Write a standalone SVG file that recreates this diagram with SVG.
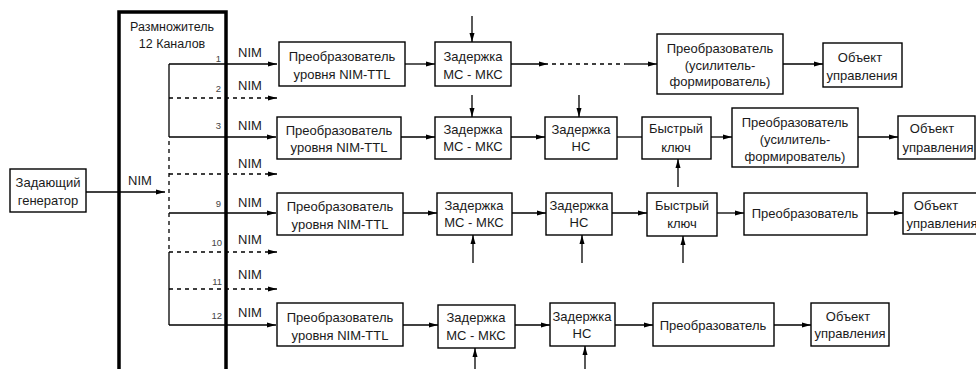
<svg xmlns="http://www.w3.org/2000/svg" width="976" height="369" viewBox="0 0 976 369">
<style>
text{font-family:"Liberation Sans",Arial,sans-serif;font-size:13px;fill:#1a1a1a;text-anchor:middle}
.ttl{font-size:12.5px}
.num{font-size:9.5px;fill:#444;text-anchor:end}
.box{fill:#fff;stroke:#000;stroke-width:1.4}
.ln{fill:none;stroke:#000;stroke-width:1.3}
.dash{fill:none;stroke:#000;stroke-width:1.3;stroke-dasharray:4 4}
.thick{fill:none;stroke:#000;stroke-width:3.5}
</style>
<defs>
<marker id="ah" markerWidth="9" markerHeight="6" refX="9" refY="3" orient="auto" markerUnits="userSpaceOnUse">
<path d="M0,0.5 L9,3 L0,5.5 Z" fill="#000"/>
</marker>
</defs>

<g id="generator">
<rect class="box" x="10" y="169" width="76" height="43"/>
<text x="48" y="187">Задающий</text>
<text x="48" y="205">генератор</text>
</g>

<g id="multiplier">
<rect class="thick" x="119" y="12" width="107" height="370"/>
<text class="ttl" x="172" y="31">Размножитель</text>
<text class="ttl" x="172" y="48">12 Каналов</text>
<text class="num" x="221" y="62">1</text>
<text class="num" x="221" y="92">2</text>
<text class="num" x="221" y="129">3</text>
<text class="num" x="221" y="207">9</text>
<text class="num" x="222" y="246">10</text>
<text class="num" x="222" y="285">11</text>
<text class="num" x="222" y="319">12</text>
</g>

<g id="nim-labels">
<text x="140" y="185">NIM</text>
<text x="250" y="57">NIM</text>
<text x="250" y="90">NIM</text>
<text x="250" y="130">NIM</text>
<text x="250" y="168">NIM</text>
<text x="250" y="207">NIM</text>
<text x="250" y="244">NIM</text>
<text x="250" y="279">NIM</text>
<text x="250" y="317">NIM</text>
</g>

<!-- Row 1 -->
<g id="r1-conv">
<rect class="box" x="279" y="42" width="126" height="44"/>
<text x="342" y="61">Преобразователь</text>
<text x="342" y="79">уровня NIM-TTL</text>
</g>
<g id="r1-delay">
<rect class="box" x="435" y="42" width="76" height="44"/>
<text x="473" y="61">Задержка</text>
<text x="473" y="79">МС - МКС</text>
</g>
<g id="r1-amp">
<rect class="box" x="657" y="34" width="126" height="60"/>
<text x="720" y="53">Преобразователь</text>
<text x="720" y="70">(усилитель-</text>
<text x="720" y="86">формирователь)</text>
</g>
<g id="r1-obj">
<rect class="box" x="823" y="43" width="79" height="44"/>
<text x="860" y="62">Объект</text>
<text x="862" y="80">управления</text>
</g>

<!-- Row 3 -->
<g id="r3-conv">
<rect class="box" x="277" y="117" width="124" height="42"/>
<text x="339" y="135">Преобразователь</text>
<text x="339" y="152">уровня NIM-TTL</text>
</g>
<g id="r3-delay">
<rect class="box" x="435" y="117" width="76" height="42"/>
<text x="473" y="134">Задержка</text>
<text x="473" y="151">МС - МКС</text>
</g>
<g id="r3-ns">
<rect class="box" x="545" y="117" width="72" height="42"/>
<text x="581" y="134">Задержка</text>
<text x="581" y="151">НС</text>
</g>
<g id="r3-key">
<rect class="box" x="642" y="117" width="69" height="42"/>
<text x="676" y="133">Быстрый</text>
<text x="676" y="152">ключ</text>
</g>
<g id="r3-amp">
<rect class="box" x="732" y="108" width="126" height="59"/>
<text x="795" y="127">Преобразователь</text>
<text x="795" y="144">(усилитель-</text>
<text x="795" y="161">формирователь)</text>
</g>
<g id="r3-obj">
<rect class="box" x="898" y="116" width="77" height="43"/>
<text x="932" y="133">Объект</text>
<text x="938" y="152">управления</text>
</g>

<!-- Row 9 -->
<g id="r9-conv">
<rect class="box" x="277" y="193" width="126" height="42"/>
<text x="340" y="211">Преобразователь</text>
<text x="340" y="229">уровня NIM-TTL</text>
</g>
<g id="r9-delay">
<rect class="box" x="437" y="193" width="75" height="42"/>
<text x="474" y="210">Задержка</text>
<text x="474" y="227">МС - МКС</text>
</g>
<g id="r9-ns">
<rect class="box" x="546" y="193" width="66" height="42"/>
<text x="579" y="210">Задержка</text>
<text x="579" y="227">НС</text>
</g>
<g id="r9-key">
<rect class="box" x="647" y="193" width="70" height="43"/>
<text x="682" y="210">Быстрый</text>
<text x="682" y="228">ключ</text>
</g>
<g id="r9-conv2">
<rect class="box" x="744" y="193" width="123" height="42"/>
<text x="805" y="218">Преобразователь</text>
</g>
<g id="r9-obj">
<rect class="box" x="903" y="193" width="80" height="41"/>
<text x="936" y="210">Объект</text>
<text x="942" y="228">управления</text>
</g>

<!-- Row 12 -->
<g id="r12-conv">
<rect class="box" x="277" y="303" width="126" height="43"/>
<text x="340" y="322">Преобразователь</text>
<text x="340" y="340">уровня NIM-TTL</text>
</g>
<g id="r12-delay">
<rect class="box" x="438" y="305" width="77" height="43"/>
<text x="476" y="322">Задержка</text>
<text x="476" y="340">МС - МКС</text>
</g>
<g id="r12-ns">
<rect class="box" x="550" y="303" width="65" height="43"/>
<text x="582" y="321">Задержка</text>
<text x="582" y="338">НС</text>
</g>
<g id="r12-conv2">
<rect class="box" x="653" y="303" width="121" height="43"/>
<text x="713" y="330">Преобразователь</text>
</g>
<g id="r12-obj">
<rect class="box" x="811" y="303" width="78" height="43"/>
<text x="848" y="321">Объект</text>
<text x="850" y="338">управления</text>
</g>

<g id="connectors">
<line class="ln" x1="86" y1="192" x2="165" y2="192" marker-end="url(#ah)"/>
<line class="ln" x1="169" y1="64" x2="169" y2="137"/>
<line class="dash" x1="169" y1="141" x2="169" y2="252"/>
<line class="ln" x1="169" y1="252" x2="169" y2="325"/>
<line class="ln" x1="169" y1="64" x2="277" y2="64" marker-end="url(#ah)"/>
<line class="dash" x1="169" y1="98" x2="277" y2="98" marker-end="url(#ah)"/>
<line class="ln" x1="169" y1="137" x2="276" y2="137" marker-end="url(#ah)"/>
<line class="dash" x1="169" y1="174" x2="277" y2="174" marker-end="url(#ah)"/>
<line class="ln" x1="169" y1="213" x2="276" y2="213" marker-end="url(#ah)"/>
<line class="dash" x1="169" y1="252" x2="277" y2="252" marker-end="url(#ah)"/>
<line class="dash" x1="169" y1="289" x2="277" y2="289" marker-end="url(#ah)"/>
<line class="ln" x1="169" y1="325" x2="276" y2="325" marker-end="url(#ah)"/>
<line class="ln" x1="405" y1="64" x2="435" y2="64" marker-end="url(#ah)"/>
<line class="ln" x1="472" y1="16" x2="472" y2="42" marker-end="url(#ah)"/>
<line class="ln" x1="511" y1="64" x2="548" y2="64" marker-end="url(#ah)"/>
<line class="dash" x1="552" y1="64" x2="625" y2="64"/>
<line class="ln" x1="625" y1="64" x2="657" y2="64" marker-end="url(#ah)"/>
<line class="ln" x1="783" y1="64" x2="823" y2="64" marker-end="url(#ah)"/>
<line class="ln" x1="401" y1="137" x2="435" y2="137" marker-end="url(#ah)"/>
<line class="ln" x1="511" y1="137" x2="545" y2="137" marker-end="url(#ah)"/>
<line class="ln" x1="617" y1="137" x2="642" y2="137"/>
<line class="ln" x1="711" y1="137" x2="732" y2="137" marker-end="url(#ah)"/>
<line class="ln" x1="858" y1="137" x2="898" y2="137" marker-end="url(#ah)"/>
<line class="ln" x1="472" y1="95" x2="472" y2="117" marker-end="url(#ah)"/>
<line class="ln" x1="579" y1="95" x2="579" y2="117" marker-end="url(#ah)"/>
<line class="ln" x1="678" y1="187" x2="678" y2="159" marker-end="url(#ah)"/>
<line class="ln" x1="403" y1="213" x2="437" y2="213" marker-end="url(#ah)"/>
<line class="ln" x1="512" y1="213" x2="546" y2="213" marker-end="url(#ah)"/>
<line class="ln" x1="612" y1="213" x2="647" y2="213" marker-end="url(#ah)"/>
<line class="ln" x1="717" y1="213" x2="744" y2="213" marker-end="url(#ah)"/>
<line class="ln" x1="867" y1="213" x2="903" y2="213" marker-end="url(#ah)"/>
<line class="ln" x1="473" y1="263" x2="473" y2="235" marker-end="url(#ah)"/>
<line class="ln" x1="582" y1="263" x2="582" y2="235" marker-end="url(#ah)"/>
<line class="ln" x1="683" y1="263" x2="683" y2="236" marker-end="url(#ah)"/>
<line class="ln" x1="403" y1="325" x2="438" y2="325" marker-end="url(#ah)"/>
<line class="ln" x1="515" y1="325" x2="550" y2="325" marker-end="url(#ah)"/>
<line class="ln" x1="615" y1="325" x2="653" y2="325" marker-end="url(#ah)"/>
<line class="ln" x1="774" y1="325" x2="811" y2="325" marker-end="url(#ah)"/>
<line class="ln" x1="475" y1="369" x2="475" y2="348" marker-end="url(#ah)"/>
<line class="ln" x1="585" y1="369" x2="585" y2="346" marker-end="url(#ah)"/>
</g>
</svg>
